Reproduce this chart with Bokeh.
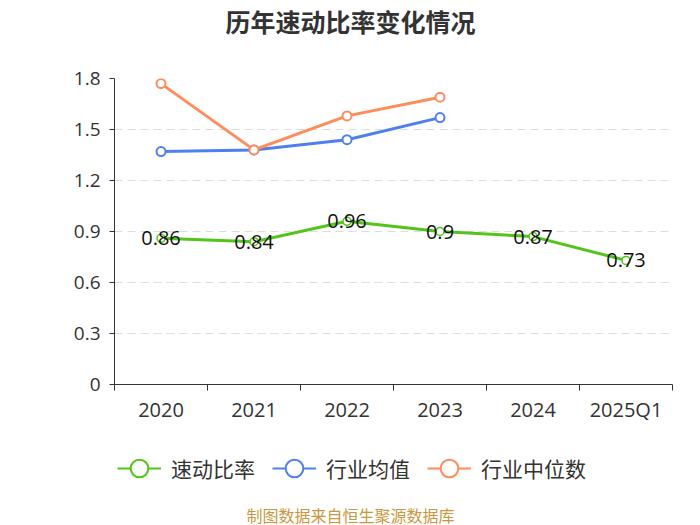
from bokeh.plotting import figure
from bokeh.layouts import column
from bokeh.models import (Range1d, LinearAxis, FixedTicker, Legend, LegendItem,
                          ColumnDataSource, Label, CustomJSTickFormatter)
from bokeh.embed import file_html
from bokeh.resources import INLINE
from bokeh.core.properties import value

categories = ["2020", "2021", "2022", "2023", "2024", "2025Q1"]
quick_ratio = [0.86, 0.84, 0.96, 0.90, 0.87, 0.73]
quick_labels = ["0.86", "0.84", "0.96", "0.9", "0.87", "0.73"]
industry_avg = [1.37, 1.38, 1.44, 1.57]
industry_median = [1.77, 1.38, 1.58, 1.69]
y_ticks = [0, 0.3, 0.6, 0.9, 1.2, 1.5, 1.8]
series_names = ["速动比率", "行业均值", "行业中位数"]
title_text = "历年速动比率变化情况"
source_text = "制图数据来自恒生聚源数据库"

GREEN = "#52C41A"
BLUE = "#4E80EE"
ORANGE = "#FF8C5A"
FONT = "Noto Sans CJK SC"
NUMFONT = "Open Sans"

xs = list(range(len(categories)))


def strip(height):
    f = figure(width=700, height=height, output_backend="svg", toolbar_location=None,
               x_range=Range1d(114, 672), y_range=Range1d(0, height),
               min_border_left=114, min_border_right=28, min_border_top=0,
               min_border_bottom=0, x_axis_location=None, y_axis_location=None)
    f.outline_line_color = None
    f.xgrid.visible = False
    f.ygrid.visible = False
    f.border_fill_color = "white"
    f.background_fill_color = "white"
    return f


# ---- title strip ----
t = strip(40)
t.add_layout(Label(x=350, y=20, text=title_text, text_align="center",
                   text_baseline="middle", text_font=FONT, text_font_size="25px",
                   text_font_style="bold", text_color="#333333"))

# ---- main chart ----
p = figure(width=700, height=390, output_backend="svg", toolbar_location=None,
           x_range=Range1d(-0.5, len(categories) - 0.5), y_range=Range1d(0, 1.8),
           min_border_left=114, min_border_right=28, min_border_top=38,
           min_border_bottom=46, x_axis_location=None, y_axis_location=None)
p.outline_line_color = None
p.background_fill_color = "white"
p.border_fill_color = "white"

yax = LinearAxis(ticker=FixedTicker(ticks=y_ticks))
yax.formatter = CustomJSTickFormatter(code="return tick == 0 ? '0' : tick.toFixed(1);")
yax.axis_line_color = "#333333"
yax.major_tick_line_color = "#333333"
yax.major_tick_out = 5
yax.major_tick_in = 0
yax.minor_tick_line_color = None
yax.major_label_text_font = NUMFONT
yax.major_label_text_font_size = "19px"
yax.major_label_text_color = "#333333"
yax.major_label_standoff = 9
p.add_layout(yax, "left")

# x axis: labels at category centres, tick marks at category boundaries
labels_map = {i: c for i, c in enumerate(categories)}
xticker = FixedTicker(ticks=xs, minor_ticks=[i - 0.5 for i in range(len(categories) + 1)])
xax = LinearAxis(ticker=xticker, major_label_overrides=labels_map)
xax.axis_line_color = "#333333"
xax.major_tick_line_color = None
xax.major_tick_out = 0
xax.major_tick_in = 0
xax.minor_tick_line_color = "#333333"
xax.minor_tick_out = 6
xax.minor_tick_in = 0
xax.major_label_text_font = NUMFONT
xax.major_label_text_font_size = "20px"
xax.major_label_text_color = "#333333"
xax.major_label_standoff = 5
p.add_layout(xax, "below")

p.xgrid.visible = False
p.ygrid.ticker = FixedTicker(ticks=y_ticks[1:])
p.ygrid.grid_line_color = "#dddddd"
p.ygrid.grid_line_dash = "8 5"
p.ygrid.grid_line_width = 1

src_q = ColumnDataSource(dict(x=xs, y=quick_ratio, t=quick_labels))
src_a = ColumnDataSource(dict(x=xs[:len(industry_avg)], y=industry_avg))
src_m = ColumnDataSource(dict(x=xs[:len(industry_median)], y=industry_median))

p.line("x", "y", source=src_q, line_color=GREEN, line_width=3)
p.scatter("x", "y", source=src_q, size=8, fill_color="white", line_color=GREEN, line_width=1.5)
p.line("x", "y", source=src_a, line_color=BLUE, line_width=3)
p.scatter("x", "y", source=src_a, size=9, fill_color="white", line_color=BLUE, line_width=2)
p.line("x", "y", source=src_m, line_color=ORANGE, line_width=3)
p.scatter("x", "y", source=src_m, size=9, fill_color="white", line_color=ORANGE, line_width=2)

p.text("x", "y", text="t", source=src_q, text_align="center", text_baseline="middle",
       text_font=value(NUMFONT), text_font_size="20px", text_color="#111111")

# ---- legend + source strip ----
q = strip(95)
nan = float("nan")
items = []
for name, col in zip(series_names, [GREEN, BLUE, ORANGE]):
    ln = q.line(x=[nan], y=[nan], line_color=col, line_width=2)
    sc = q.scatter(x=[nan], y=[nan], size=20, fill_color="white", line_color=col, line_width=2)
    items.append(LegendItem(label=name, renderers=[ln, sc]))

legend = Legend(items=items, orientation="horizontal", location=(3, 32))
legend.label_text_font = FONT
legend.label_text_font_size = "21px"
legend.label_text_color = "#333333"
legend.glyph_width = 44
legend.glyph_height = 50
legend.label_height = 50
legend.label_standoff = 10
legend.spacing = 17
legend.padding = 0
legend.margin = 0
legend.border_line_color = None
legend.background_fill_alpha = 0
q.add_layout(legend, "center")

q.add_layout(Label(x=350, y=11, text=source_text, text_align="center",
                   text_baseline="middle", text_font=FONT, text_font_size="16px",
                   text_color="#C9973E"))

layout = column(t, p, q, spacing=0)
open("out.html", "w").write(file_html(layout, INLINE))
